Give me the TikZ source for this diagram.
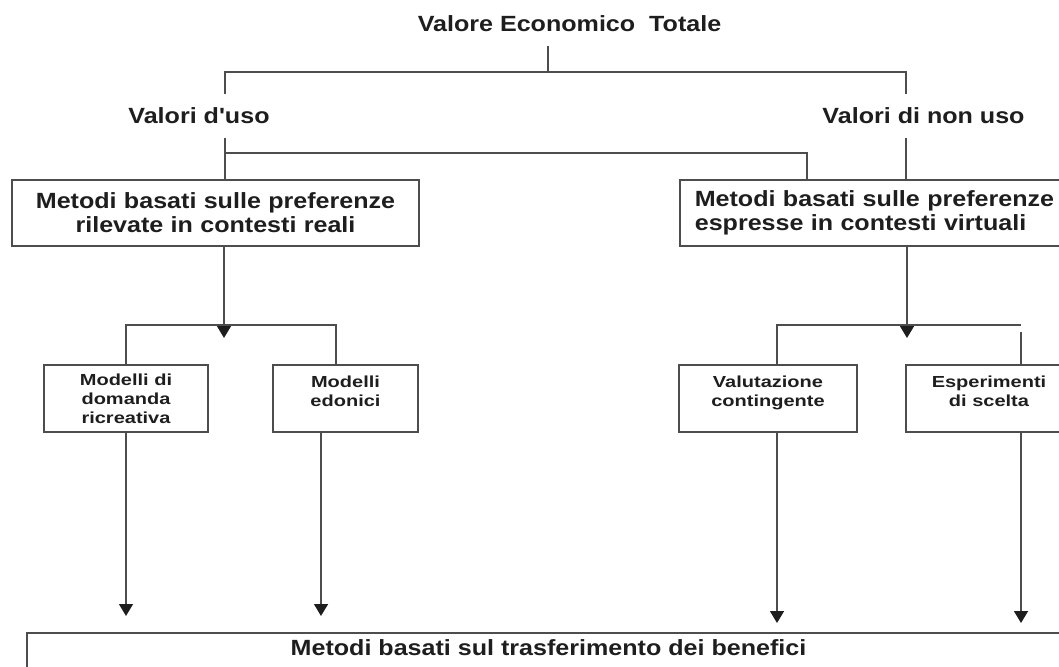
\documentclass[tikz,border=0pt]{standalone}
\usepackage{fontspec}
\newfontfamily\bigsans{Liberation Sans}[FakeStretch=1.14]
\newfontfamily\smallsans{Liberation Sans}[FakeStretch=1.25]
\usetikzlibrary{arrows.meta,positioning}
\definecolor{ink}{HTML}{1E1E1E}
\definecolor{wire}{HTML}{4D4D4D}
\tikzset{
  lbl/.style={font={\bigsans\bfseries\fontsize{22}{24}\selectfont}, text=ink,
    anchor=base, inner xsep=0pt, inner ysep=14pt},
  bigbox/.style={draw=wire, line width=1.6pt, text=ink,
    font={\bigsans\bfseries\fontsize{22}{24}\selectfont},
    inner xsep=15pt, minimum height=66pt},
  smallbox/.style={draw=wire, line width=1.6pt, text=ink, align=center,
    font={\smallsans\bfseries\fontsize{16}{19}\selectfont}, minimum height=67pt},
  twoline/.style={text depth=15pt},
  link/.style={draw=wire, line width=1.5pt},
  arr/.style={link, -{Triangle[width=14pt,length=12pt,color=ink]}},
}

\begin{document}
\begin{tikzpicture}[x=1pt,y=-1pt]
  \useasboundingbox (0,0) rectangle (1059,666);
  \clip (0,0) rectangle (1059,666);

  % Level 0: total economic value
  \node[lbl] (tot) at (569.5,32) {Valore Economico~~Totale};

  % Level 1: use / non-use values
  \node[lbl] (uso) at (199,124) {Valori d'uso};
  \node[lbl] (nonuso) at (923.5,124) {Valori di non uso};
  \coordinate (jtop) at (548,72);
  \coordinate (useX) at (225,72);
  \coordinate (nonX) at (906,72);
  \draw[link] (tot.south -| jtop) -- (jtop);
  \draw[link] (useX |- uso.north) -- (useX) -- (nonX) -- (nonX |- nonuso.north);

  % Level 2: revealed / stated preference methods
  \node[bigbox, text width=377pt, align=center] (rev) at (215.5,213)
    {Metodi basati sulle preferenze\\rilevate in contesti reali};
  \node[bigbox, text width=370pt, align=left, anchor=west] (esp) at (679,213)
    {Metodi basati sulle preferenze\\espresse in contesti virtuali};
  \coordinate (useJ) at (225,153);
  \draw[link] (useX |- uso.south) -- (useX |- rev.north);
  \draw[link] (nonX |- nonuso.south) -- (nonX |- esp.north);
  \draw[link] (useJ) -| ([xshift=128pt]esp.north west);

  % Level 3: single techniques
  \node[smallbox, minimum width=164pt] (ricr) at (126,398.5) {Modelli di\\domanda\\ricreativa};
  \node[smallbox, twoline, minimum width=145pt] (edon) at (345.5,398.5) {Modelli\\edonici};
  \node[smallbox, twoline, minimum width=178pt] (cont) at (768,398.5) {Valutazione\\contingente};
  \node[smallbox, twoline, minimum width=166pt] (scelta) at (989,398.5) {Esperimenti\\di scelta};

  % forks under the method boxes
  \coordinate (forkL) at (224,325);
  \coordinate (forkR) at (907,325);
  \coordinate (sceltaIn) at ([xshift=32pt]scelta.north);
  \draw[arr] (rev.south -| forkL) -- ([yshift=-13pt]forkL);
  \draw[link] (ricr.north) |- (forkL) -| ([xshift=-9.5pt]edon.north);
  \draw[arr] (esp.south -| forkR) -- ([yshift=-13pt]forkR);
  \draw[link] ([xshift=9pt]cont.north) |- (forkR) -- (forkR -| sceltaIn);
  \draw[link] ([yshift=32pt]sceltaIn) -- (sceltaIn);

  % Level 4: benefit transfer
  \node[draw=wire, line width=1.6pt, text=ink, anchor=north,
    font={\bigsans\bfseries\fontsize{22}{24}\selectfont},
    minimum width=1043pt, inner ysep=7pt, text depth=16pt] (trasf) at (548.5,632)
    {Metodi basati sul trasferimento dei benefici};
  \coordinate (tipL) at ([yshift=16pt]trasf.north);
  \coordinate (tipR) at ([yshift=9pt]trasf.north);
  \coordinate (edonOut) at ([xshift=-24.5pt]edon.south);
  \coordinate (contOut) at ([xshift=9pt]cont.south);
  \coordinate (sceltaOut) at ([xshift=32pt]scelta.south);
  \draw[arr] (ricr.south) -- (ricr.south |- tipL);
  \draw[arr] (edonOut) -- (edonOut |- tipL);
  \draw[arr] (contOut) -- (contOut |- tipR);
  \draw[arr] (sceltaOut) -- (sceltaOut |- tipR);
\end{tikzpicture}
\end{document}
